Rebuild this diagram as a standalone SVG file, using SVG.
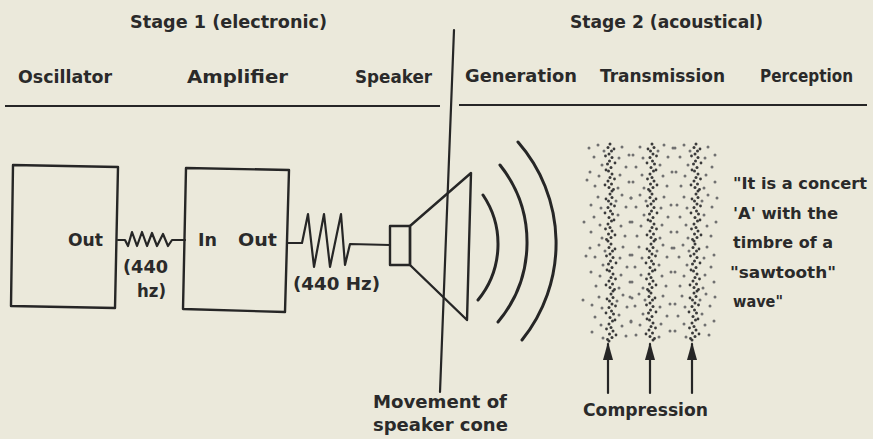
<svg xmlns="http://www.w3.org/2000/svg" width="873" height="439" viewBox="0 0 873 439">
<style>
text{font-family:"DejaVu Sans","Liberation Sans",sans-serif;font-weight:bold;fill:#2a2a2a}
.h{font-size:17px}
.q{font-size:16px}
.m{font-size:18px}
.ln{fill:none;stroke:#262626;stroke-width:2.2;stroke-linejoin:round;stroke-linecap:round}
.rule{fill:none;stroke:#262626;stroke-width:2.2}
.box{fill:none;stroke:#262626;stroke-width:2.4;stroke-linejoin:round}
.wave{fill:none;stroke:#262626;stroke-width:3;stroke-linecap:round}
.d{fill:#3a3a3a}
.s{fill:#707070}
</style>
<defs>
<marker id="ah" viewBox="0 0 18 10" refX="16" refY="5" markerWidth="18" markerHeight="10" markerUnits="userSpaceOnUse" orient="auto">
<path d="M0,0 L18,5 L0,10 Z" fill="#262626"/>
</marker>
<g id="strip">
<circle class="d" cx="0" cy="1" r="1.5"/><circle class="d" cx="-2" cy="4.5" r="1.5"/><circle class="d" cx="1.5" cy="8" r="1.5"/><circle class="d" cx="-1" cy="11" r="1.5"/><circle class="d" cx="2" cy="14.5" r="1.5"/><circle class="d" cx="-0.5" cy="18" r="1.5"/><circle class="d" cx="-2.5" cy="21" r="1.5"/><circle class="d" cx="1" cy="24.5" r="1.5"/><circle class="d" cx="-1.5" cy="28" r="1.5"/><circle class="d" cx="2" cy="31" r="1.5"/><circle class="d" cx="0" cy="34.5" r="1.5"/><circle class="d" cx="-2" cy="38" r="1.5"/><circle class="d" cx="1.5" cy="41" r="1.5"/><circle class="d" cx="-1" cy="44.5" r="1.5"/><circle class="d" cx="2" cy="48" r="1.5"/>
<circle class="d" cx="4" cy="6" r="1.4"/><circle class="d" cx="-4.5" cy="13" r="1.4"/><circle class="d" cx="5" cy="20" r="1.4"/><circle class="d" cx="-4" cy="27" r="1.4"/><circle class="d" cx="4.5" cy="36" r="1.4"/><circle class="d" cx="-5" cy="42" r="1.4"/><circle class="d" cx="3.5" cy="46.5" r="1.4"/>
<circle class="s" cx="-21" cy="5" r="1.5"/><circle class="s" cx="-12" cy="2" r="1.5"/><circle class="s" cx="12" cy="4" r="1.5"/><circle class="s" cx="19" cy="12" r="1.5"/><circle class="s" cx="-16" cy="14" r="1.5"/><circle class="s" cx="9" cy="15" r="1.5"/><circle class="s" cx="-8" cy="22" r="1.5"/><circle class="s" cx="16" cy="24" r="1.5"/><circle class="s" cx="-20" cy="29" r="1.5"/><circle class="s" cx="-11" cy="33" r="1.5"/><circle class="s" cx="10" cy="32" r="1.5"/><circle class="s" cx="19" cy="39" r="1.5"/><circle class="s" cx="-15" cy="43" r="1.5"/><circle class="s" cx="8" cy="45" r="1.5"/><circle class="s" cx="-6" cy="8" r="1.5"/>
</g>
</defs>
<rect width="873" height="439" fill="#ebe9db"/>

<g id="headers">
<text class="h" x="130" y="28" textLength="197" lengthAdjust="spacingAndGlyphs">Stage 1 (electronic)</text>
<text class="h" x="570" y="28" textLength="193" lengthAdjust="spacingAndGlyphs">Stage 2 (acoustical)</text>
<text class="h" x="18" y="83" textLength="94" lengthAdjust="spacingAndGlyphs">Oscillator</text>
<text class="h" x="187" y="83" textLength="101" lengthAdjust="spacingAndGlyphs">Amplifier</text>
<text class="h" x="355" y="83" textLength="77" lengthAdjust="spacingAndGlyphs">Speaker</text>
<text class="h" x="465" y="82" textLength="112" lengthAdjust="spacingAndGlyphs">Generation</text>
<text class="h" x="600" y="82" textLength="125" lengthAdjust="spacingAndGlyphs">Transmission</text>
<text class="h" x="760" y="82" textLength="93" lengthAdjust="spacingAndGlyphs">Perception</text>
<line class="rule" x1="5" y1="106" x2="440" y2="106"/>
<line class="rule" x1="459" y1="105" x2="867" y2="105"/>
</g>

<g id="oscillator">
<polygon class="box" points="13,165 118,167 115,308 11,306"/>
<text class="h" x="68" y="246" textLength="35" lengthAdjust="spacingAndGlyphs">Out</text>
</g>

<g id="amplifier">
<polygon class="box" points="186,168 289,170 285,312 183,309"/>
<text class="h" x="198" y="246" textLength="19" lengthAdjust="spacingAndGlyphs">In</text>
<text class="h" x="238" y="246" textLength="39" lengthAdjust="spacingAndGlyphs">Out</text>
</g>

<g id="speaker">
<rect class="box" x="390" y="226" width="20" height="39"/>
<polygon class="box" points="410,226 471,173 467,320 410,265"/>
</g>

<g id="sound-waves">
<path class="wave" d="M483,195 A88,88 0 0 1 478,300"/>
<path class="wave" d="M500,165 A124,124 0 0 1 498,322"/>
<path class="wave" d="M518,142 A154,154 0 0 1 522,340"/>
</g>

<g id="air-transmission">
<use href="#strip" transform="translate(610,143)"/>
<use href="#strip" transform="translate(610,193) scale(-1,1)"/>
<use href="#strip" transform="translate(611,243)"/>
<use href="#strip" transform="translate(611,293) scale(-1,1)"/>
<use href="#strip" transform="translate(652,143) scale(-1,1)"/>
<use href="#strip" transform="translate(652,193)"/>
<use href="#strip" transform="translate(651,243) scale(-1,1)"/>
<use href="#strip" transform="translate(651,292)"/>
<use href="#strip" transform="translate(696,143)"/>
<use href="#strip" transform="translate(696,193) scale(-1,1)"/>
<use href="#strip" transform="translate(695,243)"/>
<use href="#strip" transform="translate(694,292) scale(-1,1)"/>
<circle class="s" cx="584" cy="222" r="1.5"/><circle class="s" cx="586" cy="256" r="1.5"/><circle class="s" cx="583" cy="300" r="1.5"/><circle class="s" cx="587" cy="180" r="1.5"/>
</g>

<g id="perception">
<text class="q" x="733" y="189" textLength="134" lengthAdjust="spacingAndGlyphs">"It is a concert</text>
<text class="q" x="733" y="218.5" textLength="105" lengthAdjust="spacingAndGlyphs">'A' with the</text>
<text class="q" x="733" y="248" textLength="100" lengthAdjust="spacingAndGlyphs">timbre of a</text>
<text class="q" x="730" y="277.5" textLength="106" lengthAdjust="spacingAndGlyphs">"sawtooth"</text>
<text class="q" x="733" y="307" textLength="50" lengthAdjust="spacingAndGlyphs">wave"</text>
</g>

<g id="labels">
<text class="h" x="123" y="273" textLength="45" lengthAdjust="spacingAndGlyphs">(440</text>
<text class="h" x="137" y="297" textLength="29" lengthAdjust="spacingAndGlyphs">hz)</text>
<text class="h" x="293" y="290" textLength="87" lengthAdjust="spacingAndGlyphs">(440 Hz)</text>
<text class="m" x="373" y="408" textLength="134" lengthAdjust="spacingAndGlyphs">Movement of</text>
<text class="m" x="373" y="431">speaker cone</text>
<text class="h" x="583" y="416" textLength="125" lengthAdjust="spacingAndGlyphs">Compression</text>
</g>

<g id="connectors">
<path class="ln" d="M118,240 L125,240 L128,246 L132,232 L137,246 L142,232 L147,246 L152,233 L157,246 L163,234 L168,246 L172,240 L185,240"/>
<path class="ln" d="M288,243 L302,243 L308,214 L314,267 L324,214 L330,267 L341,214 L345,265 L350,244 L390,245"/>
<line class="ln" x1="454" y1="30" x2="440" y2="392" stroke-width="2.6"/>
<line class="ln" x1="608" y1="393" x2="608" y2="344" stroke-width="2.6" stroke-linecap="butt" marker-end="url(#ah)"/>
<line class="ln" x1="650" y1="393" x2="650" y2="344" stroke-width="2.6" stroke-linecap="butt" marker-end="url(#ah)"/>
<line class="ln" x1="692" y1="393" x2="692" y2="344" stroke-width="2.6" stroke-linecap="butt" marker-end="url(#ah)"/>
</g>
</svg>
